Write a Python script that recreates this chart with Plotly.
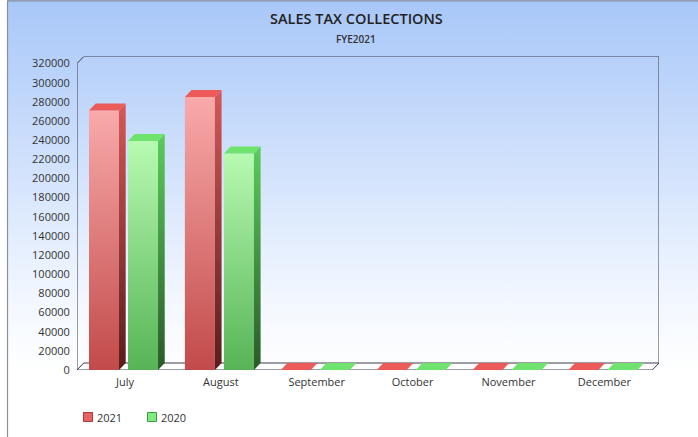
import plotly.graph_objects as go

# ---------------- data ----------------
months = ["July", "August", "September", "October", "November", "December"]
sales_2021 = [271000, 285000, 0, 0, 0, 0]
sales_2020 = [239000, 226000, 0, 0, 0, 0]
series_names = ["2021", "2020"]
y_ticks = list(range(0, 320001, 20000))

# ---------------- geometry / style constants ----------------
W, H = 698, 437
YMAX = 320000
DX = 0.07          # 3D depth along x (category units)
DY = 7300          # 3D depth along y (value units)
BAR_W = 0.313
OFFSETS = [-0.375, 0.032]

styles = [
    dict(front=[[0, "#c24a4a"], [1, "#f9aaaa"]],
         side=[[0, "#581c1c"], [1, "#d65858"]],
         top="#ec5a5a", legend="#e86464", legend_line="#a83a3a"),
    dict(front=[[0, "#56b456"], [1, "#b8fab2"]],
         side=[[0, "#285a28"], [1, "#5ccc5c"]],
         top="#6ee46e", legend="#80ec80", legend_line="#3a9a3a"),
]
FRAME = "#3c3c4c"
FONT = "Open Sans"

fig = go.Figure()

# ---------------- page background (gradient) on x/y ----------------
fig.add_trace(go.Scatter(
    x=[7.5, W, W, 7.5, 7.5], y=[0, 0, H, H, 0],
    mode="lines", line=dict(width=0), fill="toself",
    fillgradient=dict(type="vertical", start=H - 372, stop=H,
                      colorscale=[[0, "#ffffff"], [0.2, "#f2f7ff"], [1, "#a8c7f8"]]),
    xaxis="x", yaxis="y", hoverinfo="skip", showlegend=False))
fig.add_trace(go.Scatter(
    x=[7.5, 7.5, W], y=[0, H - 0.8, H - 0.8],
    mode="lines", line=dict(color="#8a8f9c", width=1.2),
    xaxis="x", yaxis="y", hoverinfo="skip", showlegend=False))

# ---------------- chart frame on x2/y2 ----------------
x0, x1 = -0.5, len(months) - 0.5
fig.add_trace(go.Scatter(
    x=[x0, x1, x1 + DX, x0 + DX, x0], y=[0, 0, DY, DY, 0],
    mode="lines", line=dict(color=FRAME, width=1), fill="toself", fillcolor="#ffffff",
    xaxis="x2", yaxis="y2", hoverinfo="skip", showlegend=False))
fig.add_trace(go.Scatter(
    x=[x0, x0, x0 + DX, x1 + DX, x1 + DX],
    y=[0, YMAX, YMAX + DY, YMAX + DY, DY],
    mode="lines", line=dict(color=FRAME, width=1),
    xaxis="x2", yaxis="y2", hoverinfo="skip", showlegend=False))

# ---------------- 3D bars ----------------
for s, vals in enumerate([sales_2021, sales_2020]):
    st = styles[s]
    for i, v in enumerate(vals):
        bx0 = i + OFFSETS[s]
        bx1 = bx0 + BAR_W
        if v > 0:
            fig.add_trace(go.Scatter(
                x=[bx0, bx1, bx1, bx0, bx0], y=[0, 0, v, v, 0],
                mode="lines", line=dict(width=0), fill="toself",
                fillgradient=dict(type="vertical", colorscale=st["front"]),
                xaxis="x2", yaxis="y2", hoverinfo="skip", showlegend=False,
                name=f"{series_names[s]} {months[i]}"))
            fig.add_trace(go.Scatter(
                x=[bx1, bx1 + DX, bx1 + DX, bx1, bx1], y=[0, DY, v + DY, v, 0],
                mode="lines", line=dict(width=0), fill="toself",
                fillgradient=dict(type="vertical", colorscale=st["side"]),
                xaxis="x2", yaxis="y2", hoverinfo="skip", showlegend=False))
        fig.add_trace(go.Scatter(
            x=[bx0, bx1, bx1 + DX, bx0 + DX, bx0], y=[v, v, v + DY, v + DY, v],
            mode="lines", line=dict(width=0), fill="toself", fillcolor=st["top"],
            xaxis="x2", yaxis="y2", hoverinfo="skip", showlegend=False))

# ---------------- legend (swatches + labels, page pixel coordinates) ----------------
legend_x = [88, 152]
legend_y = H - 417
fig.add_trace(go.Scatter(
    x=legend_x, y=[legend_y] * 2, mode="markers",
    marker=dict(symbol="square", size=9, color=[st["legend"] for st in styles],
                line=dict(color=[st["legend_line"] for st in styles], width=1)),
    xaxis="x", yaxis="y", hoverinfo="skip", showlegend=False))

annotations = [
    dict(text="SALES TAX COLLECTIONS", x=356 / W, y=(H - 19) / H, xref="paper", yref="paper",
         showarrow=False, xanchor="center", yanchor="middle",
         font=dict(size=14.5, color="#222222", family=FONT, weight=600)),
    dict(text="FYE2021", x=356 / W, y=(H - 39) / H, xref="paper", yref="paper",
         showarrow=False, xanchor="center", yanchor="middle",
         font=dict(size=10, color="#333333", family=FONT, weight=600)),
]
for lx, name in zip(legend_x, series_names):
    annotations.append(dict(text=name, x=lx + 7, y=legend_y, xref="x", yref="y",
                            showarrow=False, xanchor="left", yanchor="middle",
                            font=dict(size=11, color="#333333", family=FONT)))

fig.update_layout(
    width=W, height=H, autosize=False,
    margin=dict(l=0, r=0, t=0, b=0, pad=0),
    paper_bgcolor="#ffffff", plot_bgcolor="rgba(0,0,0,0)",
    font=dict(family=FONT, size=11, color="#333333"),
    xaxis=dict(domain=[0, 1], range=[0, W], visible=False, fixedrange=True, automargin=False),
    yaxis=dict(domain=[0, 1], range=[0, H], visible=False, fixedrange=True, automargin=False),
    xaxis2=dict(domain=[77 / W, 659 / W], range=[x0, x1 + DX], anchor="y2", automargin=False,
                tickmode="array", tickvals=list(range(len(months))), ticktext=months,
                showgrid=False, zeroline=False, showline=False, fixedrange=True,
                ticks="outside", ticklen=2, tickcolor="rgba(0,0,0,0)",
                tickfont=dict(size=11, color="#333333")),
    yaxis2=dict(domain=[67 / H, 380.5 / H], range=[0, YMAX + DY], anchor="x2", automargin=False,
                tickmode="array", tickvals=y_ticks, ticktext=[str(t) for t in y_ticks],
                showgrid=False, zeroline=False, showline=False, fixedrange=True,
                ticks="outside", ticklen=4, tickcolor="rgba(0,0,0,0)",
                tickfont=dict(size=11, color="#333333")),
    showlegend=False,
    annotations=annotations,
)

fig.write_html("out.html", config={"displayModeBar": False},
               post_script="document.body.style.margin='0';")
